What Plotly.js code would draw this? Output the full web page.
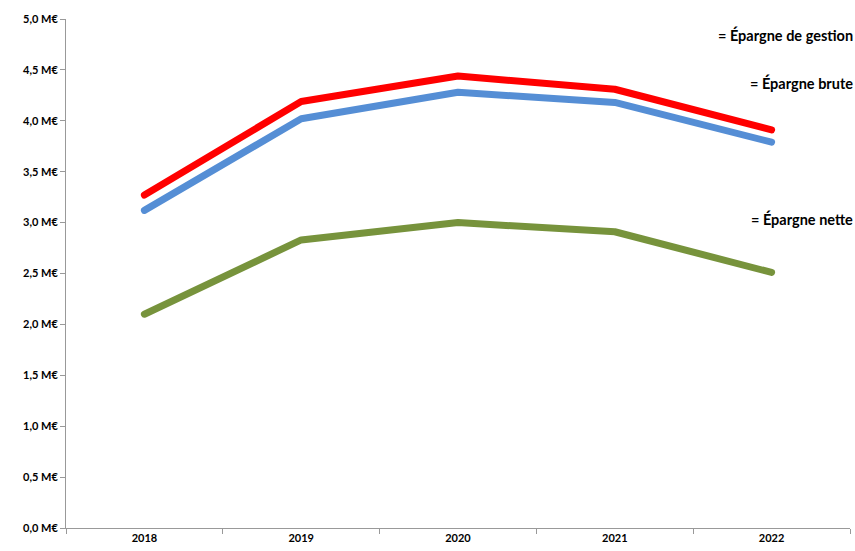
<!DOCTYPE html>
<html><head><meta charset="utf-8">
<script src="https://cdn.plot.ly/plotly-3.0.1.min.js"></script>
<style>html,body{margin:0;padding:0;background:#fff}#chart{width:855px;height:551px}
.js-line{stroke-linecap:round !important;stroke-linejoin:round !important}</style>
</head><body><div id="chart"></div>
<script>
const years = ["2018","2019","2020","2021","2022"];
const epargneGestion = [3.27, 4.19, 4.44, 4.31, 3.91];
const epargneBrute = [3.12, 4.02, 4.28, 4.18, 3.79];
const epargneNette = [2.10, 2.83, 3.00, 2.91, 2.51];
const yTickVals = [0,0.5,1,1.5,2,2.5,3,3.5,4,4.5,5];
const yTickText = ["0,0 M€","0,5 M€","1,0 M€","1,5 M€","2,0 M€","2,5 M€","3,0 M€","3,5 M€","4,0 M€","4,5 M€","5,0 M€"];
const labels = ["= Épargne de gestion","= Épargne brute","= Épargne nette"];
const labelY = [4.84, 4.37, 3.04];

const font = "Lato, 'Open Sans', sans-serif";
function tr(y, color){
  return {x: years, y: y, type:"scatter", mode:"lines", line:{color:color, width:7}, hoverinfo:"skip"};
}
const data = [tr(epargneNette,"#77933C"), tr(epargneBrute,"#558ED5"), tr(epargneGestion,"#FF0000")];
const layout = {
  width:855, height:551,
  margin:{l:66, r:5, t:19, b:23},
  showlegend:false,
  paper_bgcolor:"#fff", plot_bgcolor:"#fff",
  xaxis:{type:"category", range:[-0.5,4.5], tickson:"boundaries", ticks:"outside", ticklen:5, tickcolor:"#999",
    showline:true, linecolor:"#999", linewidth:1, showgrid:false, zeroline:false,
    tickfont:{family:font, size:11, color:"#000", weight:"bold"}},
  yaxis:{range:[0,5], tickvals:yTickVals, ticktext:yTickText, ticks:"outside", ticklen:5, tickcolor:"#999",
    showline:true, linecolor:"#999", linewidth:1, showgrid:false, zeroline:false,
    tickfont:{family:font, size:11, color:"#000", weight:"bold"}},
  annotations: labels.map((t,i)=>({text:t, xref:"paper", yref:"y", x:1.006, y:labelY[i], xanchor:"right", yanchor:"middle",
    showarrow:false, font:{family:font, size:14.5, color:"#000", weight:"bold"}}))
};
Plotly.newPlot("chart", data, layout, {displayModeBar:false, staticPlot:true});
</script></body></html>
